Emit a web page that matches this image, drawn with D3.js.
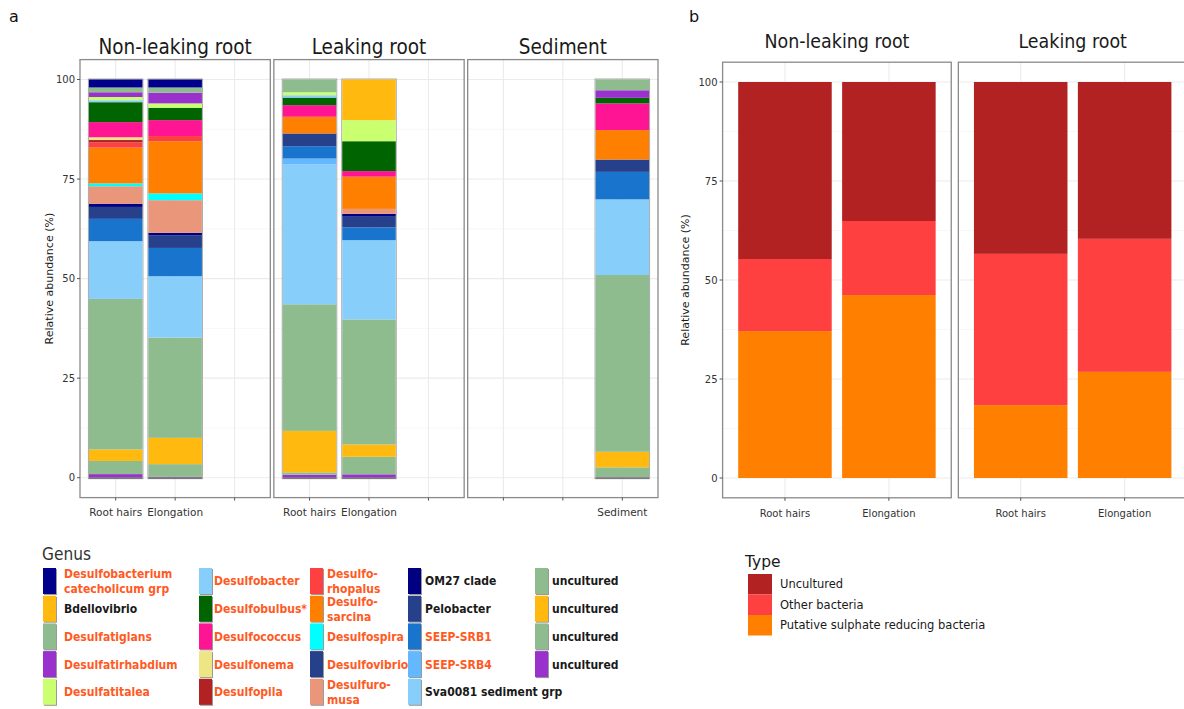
<!DOCTYPE html>
<html><head><meta charset="utf-8">
<script src="https://cdn.jsdelivr.net/npm/d3@7"></script>
<style>
body{margin:0;background:#fff}
svg{display:block}
text{font-family:"DejaVu Sans",Verdana,sans-serif}
</style>
</head><body>
<svg id="c" width="1184" height="709"></svg>
<script>
// ---------------- DATA ----------------
const genera = ["Desulfobacterium catecholicum grp","Bdellovibrio","Desulfatiglans","Desulfatirhabdium","Desulfatitalea",
  "Desulfobacter","Desulfobulbus*","Desulfococcus","Desulfonema","Desulfopila",
  "Desulforhopalus","Desulfosarcina","Desulfospira","Desulfovibrio","Desulfuromusa",
  "OM27 clade","Pelobacter","SEEP-SRB1","SEEP-SRB4","Sva0081 sediment grp",
  "uncultured","uncultured","uncultured","uncultured"];
const genusLegendLines = [["Desulfobacterium","catecholicum grp"],["Bdellovibrio"],["Desulfatiglans"],["Desulfatirhabdium"],["Desulfatitalea"],
  ["Desulfobacter"],["Desulfobulbus*"],["Desulfococcus"],["Desulfonema"],["Desulfopila"],
  ["Desulfo-","rhopalus"],["Desulfo-","sarcina"],["Desulfospira"],["Desulfovibrio"],["Desulfuro-","musa"],
  ["OM27 clade"],["Pelobacter"],["SEEP-SRB1"],["SEEP-SRB4"],["Sva0081 sediment grp"],
  ["uncultured"],["uncultured"],["uncultured"],["uncultured"]];
const genusSRB = [true,false,true,true,true, true,true,true,true,true, true,true,true,true,true, false,false,true,true,false, false,false,false,false];
const genusColors = ["#00008B","#FFB90F","#8FBC8F","#9932CC","#CAFF70",
  "#87CEFA","#006400","#FF1493","#EEE685","#B22222",
  "#FF4040","#FF7F00","#00FFFF","#27408B","#E9967A",
  "#000080","#27408B","#1874CD","#63B8FF","#87CEFA",
  "#8FBC8F","#FFB90F","#8FBC8F","#9932CC"];

// relative abundance (%) per genus, in the genus order above (first genus stacked on top)
const nonLeakingRootHairs  = [2.0,0,1.2,1.2,0.8, 0.5,5.0,3.8,0.7,0.6, 1.3,9.0,0.7,0,4.4, 0.8,3.0,5.6,0,14.5, 37.8,2.9,3.3,0.9];
const nonLeakingElongation = [2.0,0,1.3,2.7,1.1, 0,3.1,4.0,0,0, 1.3,13.1,1.7,0,8.2, 0.6,3.2,7.1,0,15.4, 25.2,6.6,3.2,0.2];
const leakingRootHairs     = [0,0,3.2,0,0.75, 0.6,1.9,2.9,0,0, 0,4.2,0,0,0, 0,3.2,3.1,1.4,35.2, 31.8,10.4,0.6,0.75];
const leakingElongation    = [0,10.2,0,0,5.3, 0,7.5,1.4,0,0, 0,8.1,0,0,1.25, 0.7,2.7,3.2,0,19.9, 31.4,3.1,4.4,0.85];
const sedimentSample       = [0,0,2.7,1.9,0, 0,1.4,6.7,0,0, 0,7.4,0,0,0, 0,3.1,6.9,0,19.0, 44.4,3.9,2.5,0.1];

const sampleTypes = ["Root hairs","Elongation","Sediment"];
const compartmentsA = ["Non-leaking root","Leaking root","Sediment"];
const samplesA = [
  {comp:"Non-leaking root", type:"Root hairs", values:nonLeakingRootHairs},
  {comp:"Non-leaking root", type:"Elongation", values:nonLeakingElongation},
  {comp:"Leaking root", type:"Root hairs", values:leakingRootHairs},
  {comp:"Leaking root", type:"Elongation", values:leakingElongation},
  {comp:"Sediment", type:"Sediment", values:sedimentSample}
];

const types = ["Uncultured","Other bacteria","Putative sulphate reducing bacteria"];
const typeColors = ["#B22222","#FF4040","#FF7F00"];
const typeNonLeakingRootHairs  = [44.7,18.2,37.1];
const typeNonLeakingElongation = [35.1,18.7,46.2];
const typeLeakingRootHairs     = [43.4,38.2,18.4];
const typeLeakingElongation    = [39.6,33.6,26.8];
const sampleTypesB = ["Root hairs","Elongation"];
const compartmentsB = ["Non-leaking root","Leaking root"];
const samplesB = [
  {comp:"Non-leaking root", type:"Root hairs", values:typeNonLeakingRootHairs},
  {comp:"Non-leaking root", type:"Elongation", values:typeNonLeakingElongation},
  {comp:"Leaking root", type:"Root hairs", values:typeLeakingRootHairs},
  {comp:"Leaking root", type:"Elongation", values:typeLeakingElongation}
];
const yTicks = [0,25,50,75,100];
const yMinorTicks = [12.5,37.5,62.5,87.5];

// ---------------- DRAW ----------------
const svg = d3.select("#c");
const SQ = 0.88;
function squeeze(sel, f){
  sel.each(function(){
    const w = this.getComputedTextLength();
    d3.select(this).attr("textLength", w*f).attr("lengthAdjust","spacingAndGlyphs");
  });
}

function drawPanel(opt){
  const g = svg.append("g");
  const y = d3.scaleLinear().domain([-5,105]).range([opt.yBottom, opt.yTop]);
  const fx = d3.scaleBand().domain(opt.compartments).range([opt.x0, opt.x1])
    .paddingInner(opt.facetGap/((opt.x1-opt.x0)/opt.compartments.length)).paddingOuter(0);
  const stack = d3.stack().keys(d3.range(opt.keysCount).reverse()).value((d,k)=>d.values[k]);

  opt.compartments.forEach(comp=>{
    const px0 = fx(comp), px1 = fx(comp)+fx.bandwidth();
    const x = d3.scaleBand().domain(opt.sampleTypes).range([px0,px1]).paddingInner(0.1).paddingOuter(0.15);
    const pg = g.append("g");
    pg.selectAll(".mi").data(yMinorTicks).join("line")
      .attr("x1",px0).attr("x2",px1).attr("y1",d=>y(d)).attr("y2",d=>y(d))
      .attr("stroke","#F2F2F2").attr("stroke-width",0.6);
    pg.selectAll(".ma").data(yTicks).join("line")
      .attr("x1",px0).attr("x2",px1).attr("y1",d=>y(d)).attr("y2",d=>y(d))
      .attr("stroke","#EBEBEB").attr("stroke-width",1.1);
    pg.selectAll(".vx").data(opt.sampleTypes).join("line")
      .attr("x1",d=>x(d)+x.bandwidth()/2).attr("x2",d=>x(d)+x.bandwidth()/2)
      .attr("y1",opt.yTop).attr("y2",opt.yBottom)
      .attr("stroke","#EBEBEB").attr("stroke-width",1.1);
    const data = opt.samples.filter(s=>s.comp===comp);
    const series = stack(data);
    if(opt.outline){
      pg.selectAll(".bg").data(data).join("rect")
        .attr("x",d=>x(d.type)-0.5).attr("width",x.bandwidth()+1)
        .attr("y",d=>y(d3.sum(d.values))-0.5).attr("height",d=>y(0)-y(d3.sum(d.values))+1.5)
        .attr("fill","none").attr("stroke","#a8a8a8").attr("stroke-width",1);
    }
    series.forEach(s=>{
      pg.selectAll(null).data(s).join("rect")
        .attr("x",d=>x(d.data.type)).attr("width",x.bandwidth())
        .attr("y",d=>y(d[1])).attr("height",d=>Math.max(0,y(d[0])-y(d[1])))
        .attr("fill",opt.colors[s.key]);
    });
    if(opt.outline){
      pg.selectAll(".bl").data(data).join("line")
        .attr("x1",d=>x(d.type)).attr("x2",d=>x(d.type)+x.bandwidth())
        .attr("y1",y(0)+0.5).attr("y2",y(0)+0.5)
        .attr("stroke","#666").attr("stroke-width",1.2);
    }
    pg.append("rect").attr("x",px0).attr("y",opt.yTop).attr("width",px1-px0).attr("height",opt.yBottom-opt.yTop)
      .attr("fill","none").attr("stroke","#8a8a8a").attr("stroke-width",1.3);
    const st = pg.append("text").attr("x",(px0+px1)/2).attr("y",opt.stripY).attr("text-anchor","middle")
      .attr("font-size",opt.stripSize).attr("fill","#1a1a1a").text(comp);
    squeeze(st, 0.9);
    pg.selectAll(".xt").data(opt.sampleTypes).join("line")
      .attr("x1",d=>x(d)+x.bandwidth()/2).attr("x2",d=>x(d)+x.bandwidth()/2)
      .attr("y1",opt.yBottom).attr("y2",opt.yBottom+3).attr("stroke","#555").attr("stroke-width",1);
    const present = opt.sampleTypes.filter(t=>data.some(d=>d.type===t));
    pg.selectAll(".xl").data(present).join("text")
      .attr("x",d=>x(d)+x.bandwidth()/2).attr("y",opt.xLabelY).attr("text-anchor","middle")
      .attr("font-size",opt.tickSize).attr("fill","#333").text(d=>d);
  });
  const ya = g.append("g");
  ya.selectAll("line").data(yTicks).join("line")
    .attr("x1",opt.x0-3).attr("x2",opt.x0).attr("y1",d=>y(d)).attr("y2",d=>y(d)).attr("stroke","#555");
  ya.selectAll("text").data(yTicks).join("text")
    .attr("x",opt.x0-5).attr("y",d=>y(d)).attr("dy","0.35em").attr("text-anchor","end")
    .attr("font-size",10).attr("fill","#333").text(d=>d);
  g.append("text").attr("transform",`translate(${opt.titleX},${(opt.yTop+opt.yBottom)/2}) rotate(-90)`)
    .attr("text-anchor","middle").attr("font-size",11).attr("fill","#1a1a1a").text("Relative abundance (%)");
}

drawPanel({x0:80,x1:658,facetGap:3.5,yTop:59.6,yBottom:497.6,compartments:compartmentsA,sampleTypes:sampleTypes,
  samples:samplesA,keysCount:genera.length,colors:genusColors,outline:true,stripY:54,stripSize:20.5,
  xLabelY:516,tickSize:10.5,titleX:53});
drawPanel({x0:722.6,x1:1187,facetGap:7,yTop:62.2,yBottom:497.8,compartments:compartmentsB,sampleTypes:sampleTypesB,
  samples:samplesB,keysCount:types.length,colors:typeColors,outline:false,stripY:48,stripSize:19.4,
  xLabelY:517,tickSize:10,titleX:689});

svg.append("text").attr("x",9).attr("y",22).attr("font-size",16).attr("fill","#111").text("a");
svg.append("text").attr("x",689).attr("y",22).attr("font-size",16).attr("fill","#111").text("b");

// ---------------- Legend a ----------------
const la = svg.append("g");
const gt = la.append("text").attr("x",42).attr("y",560).attr("font-size",17.5).attr("fill","#333").text("Genus");
squeeze(gt, SQ);
const keyX = [43,199,310,408,535];
const labX = [64,214,327,425,552];
const rowY0 = 568, rowStep = 27.7, keyW = 13, keyH = 26;
genera.forEach((gname,i)=>{
  const col = Math.floor(i/5), row = i%5;
  const ky = rowY0 + row*rowStep;
  la.append("rect").attr("x",keyX[col]+1).attr("y",ky+1).attr("width",keyW).attr("height",keyH).attr("fill","#9a9a9a");
  la.append("rect").attr("x",keyX[col]).attr("y",ky).attr("width",keyW).attr("height",keyH).attr("fill",genusColors[i]);
  const lines = genusLegendLines[i];
  const cy = ky + keyH/2;
  lines.forEach((ln,j)=>{
    const off = lines.length===1 ? 0 : (j===0 ? -7.5 : 7.5);
    const t = la.append("text").attr("x",labX[col]).attr("y",cy+off).attr("dy","0.36em")
      .attr("font-size",12.3).attr("font-weight","bold")
      .attr("fill",genusSRB[i] ? "#FF5A1F" : "#1a1a1a").text(ln);
    squeeze(t, SQ);
  });
});

// ---------------- Legend b ----------------
const lb = svg.append("g");
lb.append("text").attr("x",745).attr("y",567).attr("font-size",15.5).attr("fill","#1a1a1a").text("Type");
types.forEach((t,i)=>{
  const ky = 574 + i*20.5;
  lb.append("rect").attr("x",748).attr("y",ky).attr("width",24).attr("height",20.5).attr("fill",typeColors[i]);
  lb.append("text").attr("x",780).attr("y",ky+10.25).attr("dy","0.36em").attr("font-size",11.5)
    .attr("fill","#1a1a1a").text(t);
});
</script>
</body></html>
